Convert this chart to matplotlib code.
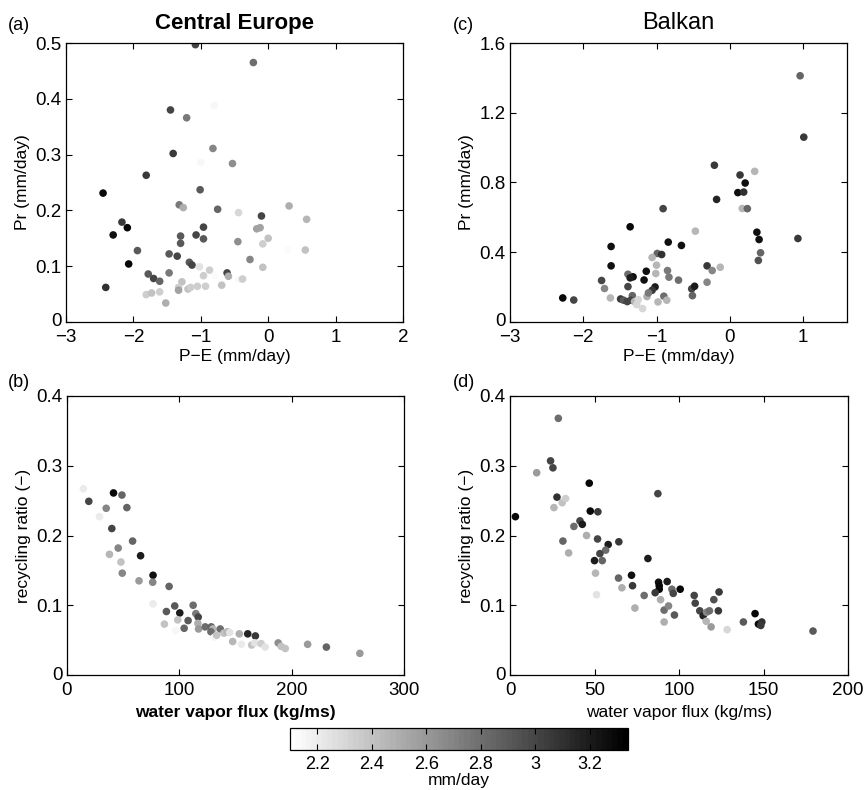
import numpy as np
import matplotlib
matplotlib.use("Agg")
import matplotlib.pyplot as plt
import matplotlib.transforms as mtransforms

plt.rcParams['font.family'] = ['Liberation Sans', 'DejaVu Sans']

# ---- data ----
# (a) Central Europe: P-E vs Pr, colour = precipitation (mm/day)
ce_pe = [-1.08, -0.22, -1.45, -0.80, -1.21, -1.41, -0.82, -1.00, -0.53, -1.81,
         -2.45, -1.01, -1.32, -1.26, -0.75, -0.44, 0.31, 0.57, -0.10, -2.17,
         -2.30, -2.09, -1.30, -1.07, -0.96, -0.96, -0.17, -0.12, -0.45, 0.00,
         -0.08, 0.29, 0.55, -1.94, -1.30, -1.47, -1.35, -1.17, -1.13, -2.07,
         -1.02, -0.27, -0.08, -0.87, -0.96, -0.79, -0.61, -0.59, -0.43, -0.38,
         -1.78, -1.70, -1.61, -1.47, -1.28, -1.33, -1.33, -1.19, -1.15, -1.05,
         -0.93, -0.69, -2.41, -1.81, -1.73, -1.61, -1.52]
ce_pr = [0.497, 0.465, 0.380, 0.388, 0.366, 0.302, 0.311, 0.286, 0.284, 0.263,
         0.231, 0.237, 0.210, 0.205, 0.202, 0.196, 0.208, 0.184, 0.190, 0.179,
         0.156, 0.169, 0.154, 0.156, 0.170, 0.149, 0.167, 0.169, 0.144, 0.150,
         0.140, 0.129, 0.129, 0.128, 0.141, 0.122, 0.118, 0.107, 0.102, 0.104,
         0.099, 0.112, 0.098, 0.093, 0.083, 0.083, 0.088, 0.082, 0.076, 0.077,
         0.086, 0.078, 0.073, 0.088, 0.072, 0.062, 0.057, 0.059, 0.062, 0.064,
         0.064, 0.066, 0.062, 0.049, 0.052, 0.054, 0.034]
ce_pr_c = [3.00, 2.80, 3.00, 2.15, 2.75, 3.05, 2.70, 2.15, 2.65, 3.05,
           3.30, 2.90, 2.75, 2.50, 2.85, 2.30, 2.50, 2.45, 3.00, 3.05,
           3.25, 3.30, 2.90, 3.00, 3.00, 2.90, 2.55, 2.55, 2.65, 2.40,
           2.35, 2.12, 2.40, 2.90, 2.90, 2.90, 3.00, 2.90, 3.00, 3.30,
           2.25, 2.70, 2.40, 2.35, 2.35, 2.12, 3.00, 2.50, 2.15, 2.35,
           2.90, 3.00, 2.85, 2.75, 2.40, 2.35, 2.55, 2.40, 2.35, 2.35,
           2.35, 2.40, 3.10, 2.35, 2.40, 2.35, 2.50]

# (c) Balkan: P-E vs Pr
bk_pe = [0.96, 1.01, -0.21, 0.14, 0.34, 0.21, 0.11, 0.19, -0.18, 0.17,
         0.24, -0.91, -1.36, -0.47, 0.37, 0.40, 0.93, -1.62, -0.84, -0.66,
         0.42, 0.39, -0.99, -0.93, -1.06, -1.62, -1.00, -0.31, -0.13, -0.85,
         -1.14, -1.39, -1.32, -1.36, -1.01, -0.83, -1.75, -1.17, -0.70, -0.24,
         -0.31, -1.71, -1.39, -1.02, -1.06, -0.52, -0.48, -0.51, -1.63, -2.28,
         -2.13, -1.49, -1.45, -1.33, -1.35, -1.40, -1.30, -1.25, -1.27, -1.19,
         -1.13, -1.11, -0.98, -0.90, -0.86]
bk_pr = [1.412, 1.060, 0.899, 0.843, 0.864, 0.797, 0.742, 0.745, 0.703, 0.651,
         0.650, 0.650, 0.546, 0.521, 0.515, 0.473, 0.479, 0.433, 0.458, 0.439,
         0.397, 0.353, 0.393, 0.387, 0.370, 0.322, 0.326, 0.322, 0.314, 0.295,
         0.291, 0.274, 0.259, 0.253, 0.278, 0.257, 0.238, 0.241, 0.240, 0.295,
         0.228, 0.192, 0.203, 0.201, 0.182, 0.190, 0.205, 0.151, 0.138, 0.138,
         0.126, 0.132, 0.125, 0.151, 0.125, 0.117, 0.117, 0.128, 0.100, 0.077,
         0.146, 0.167, 0.115, 0.148, 0.125]
bk_pr_c = [2.85, 3.05, 3.05, 3.05, 2.45, 3.25, 3.25, 3.10, 3.15, 2.45,
           2.85, 3.00, 3.30, 2.45, 3.25, 3.25, 3.05, 3.25, 3.25, 3.25,
           2.85, 2.95, 2.85, 3.10, 2.45, 3.25, 2.45, 3.05, 2.45, 2.75,
           3.25, 2.80, 3.25, 3.20, 2.45, 2.75, 3.00, 3.25, 2.80, 2.70,
           2.70, 2.70, 3.00, 3.20, 3.05, 3.00, 3.20, 2.85, 2.45, 3.30,
           3.00, 3.05, 2.90, 2.85, 3.00, 3.00, 2.45, 2.30, 2.30, 2.30,
           2.50, 2.75, 2.45, 2.80, 2.45]

# (b) Central Europe: water vapour flux vs recycling ratio
ce_flux = [14.6, 19.4, 41.4, 48.9, 34.9, 53.3, 28.9, 39.9, 58.4, 45.6,
           37.8, 65.5, 48.0, 49.2, 76.6, 64.1, 76.3, 90.9, 76.6, 112.3,
           88.5, 95.9, 100.4, 114.7, 116.8, 107.8, 98.6, 86.7, 96.8, 104.3,
           116.5, 117.1, 123.0, 128.4, 129.9, 128.1, 136.4, 131.1, 133.2, 139.7,
           142.7, 144.8, 147.5, 153.4, 155.2, 160.9, 167.7, 164.4, 167.1, 172.8,
           176.4, 188.0, 190.7, 194.3, 214.2, 230.9, 260.7]
ce_rr = [0.267, 0.249, 0.261, 0.258, 0.239, 0.240, 0.227, 0.210, 0.192, 0.182,
         0.173, 0.171, 0.162, 0.146, 0.143, 0.135, 0.133, 0.127, 0.102, 0.100,
         0.091, 0.099, 0.089, 0.088, 0.083, 0.078, 0.079, 0.073, 0.064, 0.067,
         0.074, 0.066, 0.069, 0.069, 0.066, 0.062, 0.066, 0.054, 0.057, 0.060,
         0.062, 0.061, 0.048, 0.059, 0.044, 0.059, 0.056, 0.043, 0.046, 0.045,
         0.040, 0.046, 0.041, 0.038, 0.044, 0.040, 0.031]
ce_rr_c = [2.20, 3.00, 3.30, 2.85, 2.70, 2.85, 2.20, 3.00, 2.85, 2.70,
           2.45, 3.20, 2.40, 2.70, 3.25, 2.60, 2.70, 2.85, 2.20, 2.80,
           2.90, 2.90, 3.20, 2.75, 3.00, 2.90, 2.40, 2.40, 2.15, 2.85,
           2.50, 2.60, 2.80, 2.85, 2.45, 2.80, 2.80, 2.15, 2.40, 2.40,
           2.45, 2.25, 2.45, 2.50, 2.20, 3.15, 3.05, 2.40, 2.25, 2.35,
           2.25, 2.65, 2.40, 2.40, 2.60, 2.85, 2.60]

# (d) Balkan: water vapour flux vs recycling ratio
bk_flux = [3.2, 15.8, 24.0, 25.4, 28.6, 27.8, 26.0, 30.9, 32.9, 46.9,
           47.5, 52.0, 37.8, 41.4, 42.8, 31.3, 45.3, 51.8, 58.1, 64.4,
           34.7, 56.6, 53.2, 50.0, 54.6, 81.6, 87.5, 50.6, 64.2, 71.9,
           72.5, 66.2, 51.2, 79.4, 73.9, 87.9, 88.3, 88.3, 85.9, 93.0,
           95.8, 96.6, 100.7, 89.1, 91.2, 93.8, 91.2, 97.3, 109.0, 109.6,
           112.3, 114.3, 116.3, 118.0, 116.1, 119.0, 120.6, 123.7, 123.3, 128.5,
           138.1, 145.0, 147.0, 149.0, 148.4, 179.3]
bk_rr = [0.227, 0.290, 0.307, 0.297, 0.368, 0.255, 0.240, 0.247, 0.253, 0.275,
         0.235, 0.234, 0.213, 0.221, 0.216, 0.192, 0.200, 0.195, 0.187, 0.191,
         0.175, 0.179, 0.174, 0.164, 0.164, 0.167, 0.260, 0.146, 0.139, 0.143,
         0.128, 0.125, 0.115, 0.114, 0.096, 0.133, 0.128, 0.123, 0.118, 0.134,
         0.123, 0.117, 0.123, 0.108, 0.093, 0.099, 0.076, 0.086, 0.114, 0.103,
         0.092, 0.085, 0.090, 0.092, 0.077, 0.069, 0.108, 0.119, 0.092, 0.065,
         0.076, 0.088, 0.073, 0.076, 0.071, 0.063]
bk_rr_c = [3.30, 2.60, 3.00, 3.00, 2.80, 3.10, 2.45, 2.40, 2.35, 3.30,
           3.30, 3.05, 2.80, 3.00, 3.20, 2.85, 2.50, 3.00, 3.20, 3.05,
           2.50, 2.80, 3.00, 3.20, 2.85, 3.20, 3.00, 2.45, 2.85, 3.25,
           3.05, 2.50, 2.25, 2.80, 2.50, 3.25, 3.30, 3.30, 3.05, 3.20,
           2.80, 3.00, 3.30, 2.50, 2.80, 2.70, 2.50, 2.90, 3.00, 3.00,
           3.00, 3.15, 2.70, 2.80, 2.45, 2.60, 2.95, 3.05, 3.05, 2.30,
           2.90, 3.30, 3.30, 3.10, 3.05, 2.90]

cbar_ticks = [2.2, 2.4, 2.6, 2.8, 3.0, 3.2]
vmin, vmax = 2.1, 3.34
cmap = plt.get_cmap('gray_r', 64)

W, H = 865, 790
fig = plt.figure(figsize=(W / 100, H / 100), dpi=100)


def px_axes(x0, y0, x1, y1):
    # pixel box (left, top, right, bottom) -> figure fraction
    return fig.add_axes([x0 / W, 1 - y1 / H, (x1 - x0) / W, (y1 - y0) / H])


def style(ax):
    ax.tick_params(direction='in', top=True, right=True, labelsize=13.5,
                   length=4, width=0.8)
    ax.tick_params(axis='x', pad=5)
    ax.tick_params(axis='y', pad=3)
    for s in ax.spines.values():
        s.set_linewidth(0.9)


ax_a = px_axes(66, 43, 403, 322)
ax_c = px_axes(510, 43, 847, 322)
ax_b = px_axes(67, 396, 404, 675)
ax_d = px_axes(510, 396, 848, 675)

ms = 30
sc = ax_a.scatter(ce_pe, ce_pr, c=ce_pr_c, cmap=cmap, vmin=vmin, vmax=vmax,
                  s=ms, linewidths=0)
ax_c.scatter(bk_pe, bk_pr, c=bk_pr_c, cmap=cmap, vmin=vmin, vmax=vmax,
             s=ms, linewidths=0)
ax_b.scatter(ce_flux, ce_rr, c=ce_rr_c, cmap=cmap, vmin=vmin, vmax=vmax,
             s=ms, linewidths=0)
ax_d.scatter(bk_flux, bk_rr, c=bk_rr_c, cmap=cmap, vmin=vmin, vmax=vmax,
             s=ms, linewidths=0)

ax_a.set_xlim(-3, 2)
ax_a.set_ylim(0, 0.5)
ax_a.set_xticks([-3, -2, -1, 0, 1, 2])
ax_a.set_yticks([0, 0.1, 0.2, 0.3, 0.4, 0.5])
ax_a.set_yticklabels(['0', '0.1', '0.2', '0.3', '0.4', '0.5'])

ax_c.set_xlim(-3, 1.6)
ax_c.set_ylim(0, 1.6)
ax_c.set_xticks([-3, -2, -1, 0, 1])
ax_c.set_yticks([0, 0.4, 0.8, 1.2, 1.6])
ax_c.set_yticklabels(['0', '0.4', '0.8', '1.2', '1.6'])

ax_b.set_xlim(0, 300)
ax_b.set_ylim(0, 0.4)
ax_b.set_xticks([0, 100, 200, 300])
ax_b.set_yticks([0, 0.1, 0.2, 0.3, 0.4])
ax_b.set_yticklabels(['0', '0.1', '0.2', '0.3', '0.4'])

ax_d.set_xlim(0, 200)
ax_d.set_ylim(0, 0.4)
ax_d.set_xticks([0, 50, 100, 150, 200])
ax_d.set_yticks([0, 0.1, 0.2, 0.3, 0.4])
ax_d.set_yticklabels(['0', '0.1', '0.2', '0.3', '0.4'])

lift = mtransforms.ScaledTranslation(0, 2 / 100, fig.dpi_scale_trans)
for ax in (ax_a, ax_b, ax_c, ax_d):
    style(ax)
    # nudge the corner "0" up a little so it clears the first x tick label
    t0 = ax.get_yticklabels()[0]
    t0.set_transform(t0.get_transform() + lift)

lab = 12.5
ax_a.set_xlabel('P\u2212E (mm/day)', fontsize=lab, labelpad=2)
ax_c.set_xlabel('P\u2212E (mm/day)', fontsize=lab, labelpad=2)
ax_a.set_ylabel('Pr (mm/day)', fontsize=lab, labelpad=4)
ax_c.set_ylabel('Pr (mm/day)', fontsize=lab, labelpad=4)
ax_b.set_xlabel('water vapor flux (kg/ms)', fontsize=lab, fontweight='bold',
                labelpad=4)
ax_d.set_xlabel('water vapor flux (kg/ms)', fontsize=lab, labelpad=4)
ax_b.set_ylabel('recycling ratio (\u2212)', fontsize=lab, labelpad=4)
ax_d.set_ylabel('recycling ratio (\u2212)', fontsize=lab, labelpad=4)

ax_a.set_title('Central Europe', fontsize=16, fontweight='bold', pad=10)
ax_c.set_title('Balkan', fontsize=17, pad=10)

fig.text(8 / W, 1 - 25 / H, '(a)', fontsize=13, va='center', ha='left')
fig.text(453 / W, 1 - 25 / H, '(c)', fontsize=13, va='center', ha='left')
fig.text(8 / W, 1 - 383 / H, '(b)', fontsize=13, va='center', ha='left')
fig.text(453 / W, 1 - 383 / H, '(d)', fontsize=13, va='center', ha='left')

cax = px_axes(290, 728, 628, 750)
cb = fig.colorbar(sc, cax=cax, orientation='horizontal', ticks=cbar_ticks)
cb.ax.set_xticklabels(['2.2', '2.4', '2.6', '2.8', '3', '3.2'])
cb.ax.tick_params(direction='in', top=True, bottom=True, labelsize=13,
                  length=4, width=0.8, pad=4)
cb.outline.set_linewidth(0.9)
fig.text(459 / W, 1 - 781 / H, 'mm/day', fontsize=12.5, ha='center',
         va='center')

fig.savefig('out.png', dpi=100)
